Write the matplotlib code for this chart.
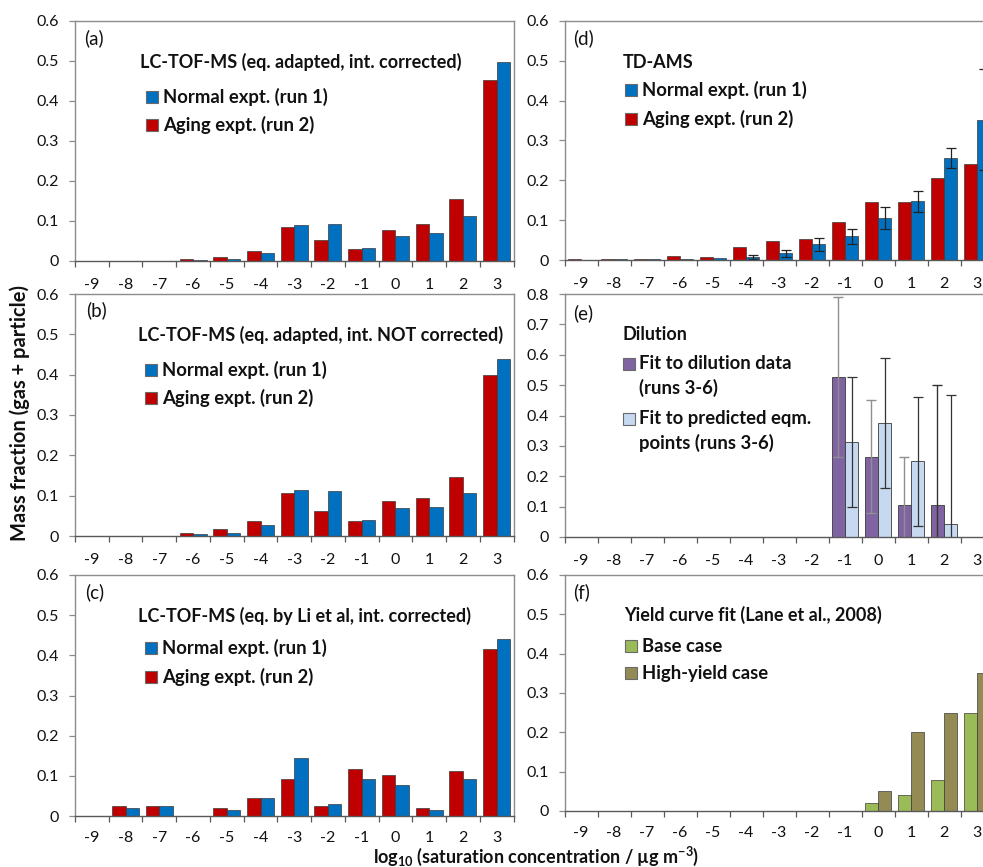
import matplotlib
matplotlib.use("Agg")
import matplotlib.pyplot as plt
from matplotlib.patches import Rectangle
import numpy as np

plt.rcParams['font.family'] = ['Lato', 'DejaVu Sans']
plt.rcParams['mathtext.fontset'] = 'custom'
plt.rcParams['mathtext.rm'] = 'Lato:bold'
plt.rcParams['mathtext.default'] = 'rm'

# ---------------- data ----------------
categories = [-9, -8, -7, -6, -5, -4, -3, -2, -1, 0, 1, 2, 3]
ytick_vals_06 = [0, 0.1, 0.2, 0.3, 0.4, 0.5, 0.6]
ytick_labels_06 = ['0', '0.1', '0.2', '0.3', '0.4', '0.5', '0.6']
ytick_vals_08 = [0, 0.1, 0.2, 0.3, 0.4, 0.5, 0.6, 0.7, 0.8]
ytick_labels_08 = ['0', '0.1', '0.2', '0.3', '0.4', '0.5', '0.6', '0.7', '0.8']

# (a) LC-TOF-MS eq. adapted, int. corrected
a_aging = [0, 0, 0, 0.004, 0.011, 0.026, 0.084, 0.053, 0.030, 0.078, 0.093, 0.154, 0.452]
a_normal = [0, 0, 0, 0.002, 0.005, 0.021, 0.089, 0.093, 0.033, 0.062, 0.070, 0.113, 0.497]
# (b) LC-TOF-MS eq. adapted, int. NOT corrected
b_aging = [0, 0, 0, 0.007, 0.017, 0.036, 0.107, 0.063, 0.036, 0.087, 0.095, 0.147, 0.400]
b_normal = [0, 0, 0, 0.005, 0.008, 0.028, 0.113, 0.112, 0.039, 0.069, 0.071, 0.107, 0.440]
# (c) LC-TOF-MS eq. by Li et al, int. corrected
c_aging = [0, 0.024, 0.026, 0, 0.019, 0.045, 0.093, 0.024, 0.118, 0.103, 0.019, 0.111, 0.415]
c_normal = [0, 0.019, 0.026, 0, 0.016, 0.045, 0.145, 0.030, 0.093, 0.077, 0.015, 0.093, 0.441]
# (d) TD-AMS
d_aging = [0.002, 0.002, 0.002, 0.009, 0.008, 0.033, 0.048, 0.052, 0.096, 0.145, 0.145, 0.205, 0.241]
d_normal = [0, 0.002, 0.002, 0.003, 0.004, 0.008, 0.017, 0.039, 0.059, 0.106, 0.147, 0.255, 0.352]
d_normal_err = [0, 0, 0, 0, 0, 0.005, 0.009, 0.016, 0.019, 0.028, 0.026, 0.025, 0.127]
# (e) Dilution
e_categories = [-1, 0, 1, 2]
e_dilution = [0.527, 0.264, 0.105, 0.105]
e_dilution_err = [0.263, 0.186, 0.158, 0.396]
e_predicted = [0.313, 0.375, 0.249, 0.042]
e_predicted_err = [0.213, 0.213, 0.212, 0.425]
# (f) Yield curve fit
f_categories = [0, 1, 2, 3]
f_base = [0.02, 0.04, 0.08, 0.25]
f_high = [0.05, 0.20, 0.25, 0.35]

# ---------------- styles ----------------
RED = '#C00000'
BLUE = '#0070C0'
PURPLE = '#8064A2'
LIGHTBLUE = '#C6D9F1'
GREEN = '#9BBB59'
OLIVE = '#948A54'
EDGE = '#3a3a3a'
FRAME = '#8c8c8c'
AXISLINE = '#595959'
TXT = '#111111'

W, H = 983, 867
fig = plt.figure(figsize=(W / 100, H / 100), dpi=100)


def px_axes(x0, y_top, x1, y_bot):
    return fig.add_axes([x0 / W, 1 - y_bot / H, (x1 - x0) / W, (y_bot - y_top) / H])


def ftext(x, y, s, **kw):
    fig.text(x / W, 1 - y / H, s, va='center', ha='left', color=TXT, **kw)


def fpatch(x, y, color, size=12):
    r = Rectangle((x / W, 1 - (y + size / 2) / H), size / W, size / H,
                  transform=fig.transFigure, facecolor=color, edgecolor='#6a6a6a',
                  linewidth=0.8, figure=fig)
    fig.patches.append(r)


def style_axes(ax, yvals, ylabels, ymax, xpad=12):
    ax.set_xlim(-9.5, 3.5)
    ax.set_ylim(0, ymax)
    ax.set_yticks(yvals)
    ax.set_yticklabels(ylabels)
    ax.set_xticks(categories)
    ax.set_xticklabels([str(c) for c in categories])
    ax.set_xticks(np.arange(-9.5, 4.0, 1.0), minor=True)
    ax.tick_params(axis='x', which='major', length=0, pad=xpad, labelsize=11.5, labelcolor=TXT)
    ax.tick_params(axis='x', which='minor', length=4.5, width=0.9, color=AXISLINE, direction='out')
    ax.tick_params(axis='y', length=4.5, width=0.9, color=FRAME, pad=7, labelsize=11.5, labelcolor=TXT)
    for s in ['left', 'top', 'right']:
        ax.spines[s].set_color(FRAME)
        ax.spines[s].set_linewidth(1.0)
    ax.spines['bottom'].set_color(AXISLINE)
    ax.spines['bottom'].set_linewidth(1.0)
    ax.spines['bottom'].set_zorder(5)


BW = 0.4
cats = np.array(categories, dtype=float)

# ---- (a) ----
ax = px_axes(75, 21, 513.5, 261)
ax.bar(cats - BW / 2, a_aging, BW, color=RED, edgecolor=EDGE, linewidth=0.5)
ax.bar(cats + BW / 2, a_normal, BW, color=BLUE, edgecolor=EDGE, linewidth=0.5)
style_axes(ax, ytick_vals_06, ytick_labels_06, 0.6)

# ---- (b) ----
ax = px_axes(75, 294, 513.5, 536)
ax.bar(cats - BW / 2, b_aging, BW, color=RED, edgecolor=EDGE, linewidth=0.5)
ax.bar(cats + BW / 2, b_normal, BW, color=BLUE, edgecolor=EDGE, linewidth=0.5)
style_axes(ax, ytick_vals_06, ytick_labels_06, 0.6)

# ---- (c) ----
ax = px_axes(75, 575, 513.5, 816)
ax.bar(cats - BW / 2, c_aging, BW, color=RED, edgecolor=EDGE, linewidth=0.5)
ax.bar(cats + BW / 2, c_normal, BW, color=BLUE, edgecolor=EDGE, linewidth=0.5)
style_axes(ax, ytick_vals_06, ytick_labels_06, 0.6, xpad=10.5)

# ---- (d) ----
ax = px_axes(564.5, 21, 993.5, 260)
ax.bar(cats - BW / 2, d_aging, BW, color=RED, edgecolor=EDGE, linewidth=0.5)
ax.bar(cats + BW / 2, d_normal, BW, color=BLUE, edgecolor=EDGE, linewidth=0.5)
errmask = np.array(d_normal_err) > 0
ax.errorbar((cats + BW / 2)[errmask], np.array(d_normal)[errmask],
            yerr=np.array(d_normal_err)[errmask], fmt='none', ecolor='#222222',
            elinewidth=0.9, capsize=3.5, capthick=0.9, zorder=4)
style_axes(ax, ytick_vals_06, ytick_labels_06, 0.6)

# ---- (e) ----
ax = px_axes(564.5, 294, 993.5, 537)
ec = np.array(e_categories, dtype=float)
ax.bar(ec - BW / 2, e_dilution, BW, color=PURPLE, edgecolor=EDGE, linewidth=0.6)
ax.bar(ec + BW / 2, e_predicted, BW, color=LIGHTBLUE, edgecolor=EDGE, linewidth=0.6)
dil_ecolors = ['#8f8f8f', '#8f8f8f', '#8f8f8f', '#333333']
for i in range(len(ec)):
    ax.errorbar([ec[i] - BW / 2], [e_dilution[i]], yerr=[e_dilution_err[i]], fmt='none',
                ecolor=dil_ecolors[i], elinewidth=1.0, capsize=3.5, capthick=1.0, zorder=4)
ax.errorbar(ec + BW / 2, e_predicted, yerr=e_predicted_err, fmt='none',
            ecolor='#333333', elinewidth=0.9, capsize=3.5, capthick=0.9, zorder=4)
style_axes(ax, ytick_vals_08, ytick_labels_08, 0.8)

# ---- (f) ----
ax = px_axes(564.5, 575, 993.5, 811)
fc = np.array(f_categories, dtype=float)
ax.bar(fc - BW / 2, f_base, BW, color=GREEN, edgecolor=EDGE, linewidth=0.5)
ax.bar(fc + BW / 2, f_high, BW, color=OLIVE, edgecolor=EDGE, linewidth=0.5)
style_axes(ax, ytick_vals_06, ytick_labels_06, 0.6, xpad=10.5)

# ---------------- annotations ----------------
TS = 13
LS = 13.3
PS = 13.5
# (a)
ftext(84, 38, '(a)', fontsize=PS)
ftext(140, 62, 'LC-TOF-MS (eq. adapted, int. corrected)', fontsize=TS, fontweight='bold')
fpatch(146, 97, BLUE); ftext(163, 97, 'Normal expt. (run 1)', fontsize=LS, fontweight='bold')
fpatch(146, 125, RED); ftext(163, 125, 'Aging expt. (run 2)', fontsize=LS, fontweight='bold')
# (b)
ftext(86, 310, '(b)', fontsize=PS)
ftext(138, 335, 'LC-TOF-MS (eq. adapted, int. NOT corrected)', fontsize=TS, fontweight='bold')
fpatch(145, 370, BLUE); ftext(162, 370, 'Normal expt. (run 1)', fontsize=LS, fontweight='bold')
fpatch(145, 398, RED); ftext(162, 398, 'Aging expt. (run 2)', fontsize=LS, fontweight='bold')
# (c)
ftext(85, 592, '(c)', fontsize=PS)
ftext(138, 616, 'LC-TOF-MS (eq. by Li et al, int. corrected)', fontsize=TS, fontweight='bold')
fpatch(145, 648, BLUE); ftext(162, 648, 'Normal expt. (run 1)', fontsize=LS, fontweight='bold')
fpatch(145, 677, RED); ftext(162, 677, 'Aging expt. (run 2)', fontsize=LS, fontweight='bold')
# (d)
ftext(573, 38, '(d)', fontsize=PS)
ftext(623, 62, 'TD-AMS', fontsize=TS, fontweight='bold')
fpatch(625, 90, BLUE); ftext(642, 90, 'Normal expt. (run 1)', fontsize=LS, fontweight='bold')
fpatch(625, 119, RED); ftext(642, 119, 'Aging expt. (run 2)', fontsize=LS, fontweight='bold')
# (e)
ftext(573, 313, '(e)', fontsize=PS)
ftext(623, 335, 'Dilution', fontsize=TS, fontweight='bold')
fpatch(623, 364, PURPLE); ftext(639, 364, 'Fit to dilution data', fontsize=LS, fontweight='bold')
ftext(639, 388, '(runs 3-6)', fontsize=LS, fontweight='bold')
fpatch(623, 419, LIGHTBLUE); ftext(639, 419, 'Fit to predicted eqm.', fontsize=LS, fontweight='bold')
ftext(639, 443, 'points (runs 3-6)', fontsize=LS, fontweight='bold')
# (f)
ftext(573, 592, '(f)', fontsize=PS)
ftext(624, 615, 'Yield curve fit (Lane et al., 2008)', fontsize=TS, fontweight='bold')
fpatch(625, 646, GREEN); ftext(642, 646, 'Base case', fontsize=LS, fontweight='bold')
fpatch(625, 673, OLIVE); ftext(642, 673, 'High-yield case', fontsize=LS, fontweight='bold')

# axis titles
fig.text(19.5 / W, 1 - 413 / H, 'Mass fraction (gas + particle)', rotation=90,
         ha='center', va='center', fontsize=14.5, fontweight='bold', color=TXT)
fig.text(536 / W, 1 - 863 / H, 'log$_{10}$ (saturation concentration / µg m$^{-3}$)',
         ha='center', va='baseline', fontsize=13, fontweight='bold', color=TXT)

fig.savefig('out.png', dpi=100)
